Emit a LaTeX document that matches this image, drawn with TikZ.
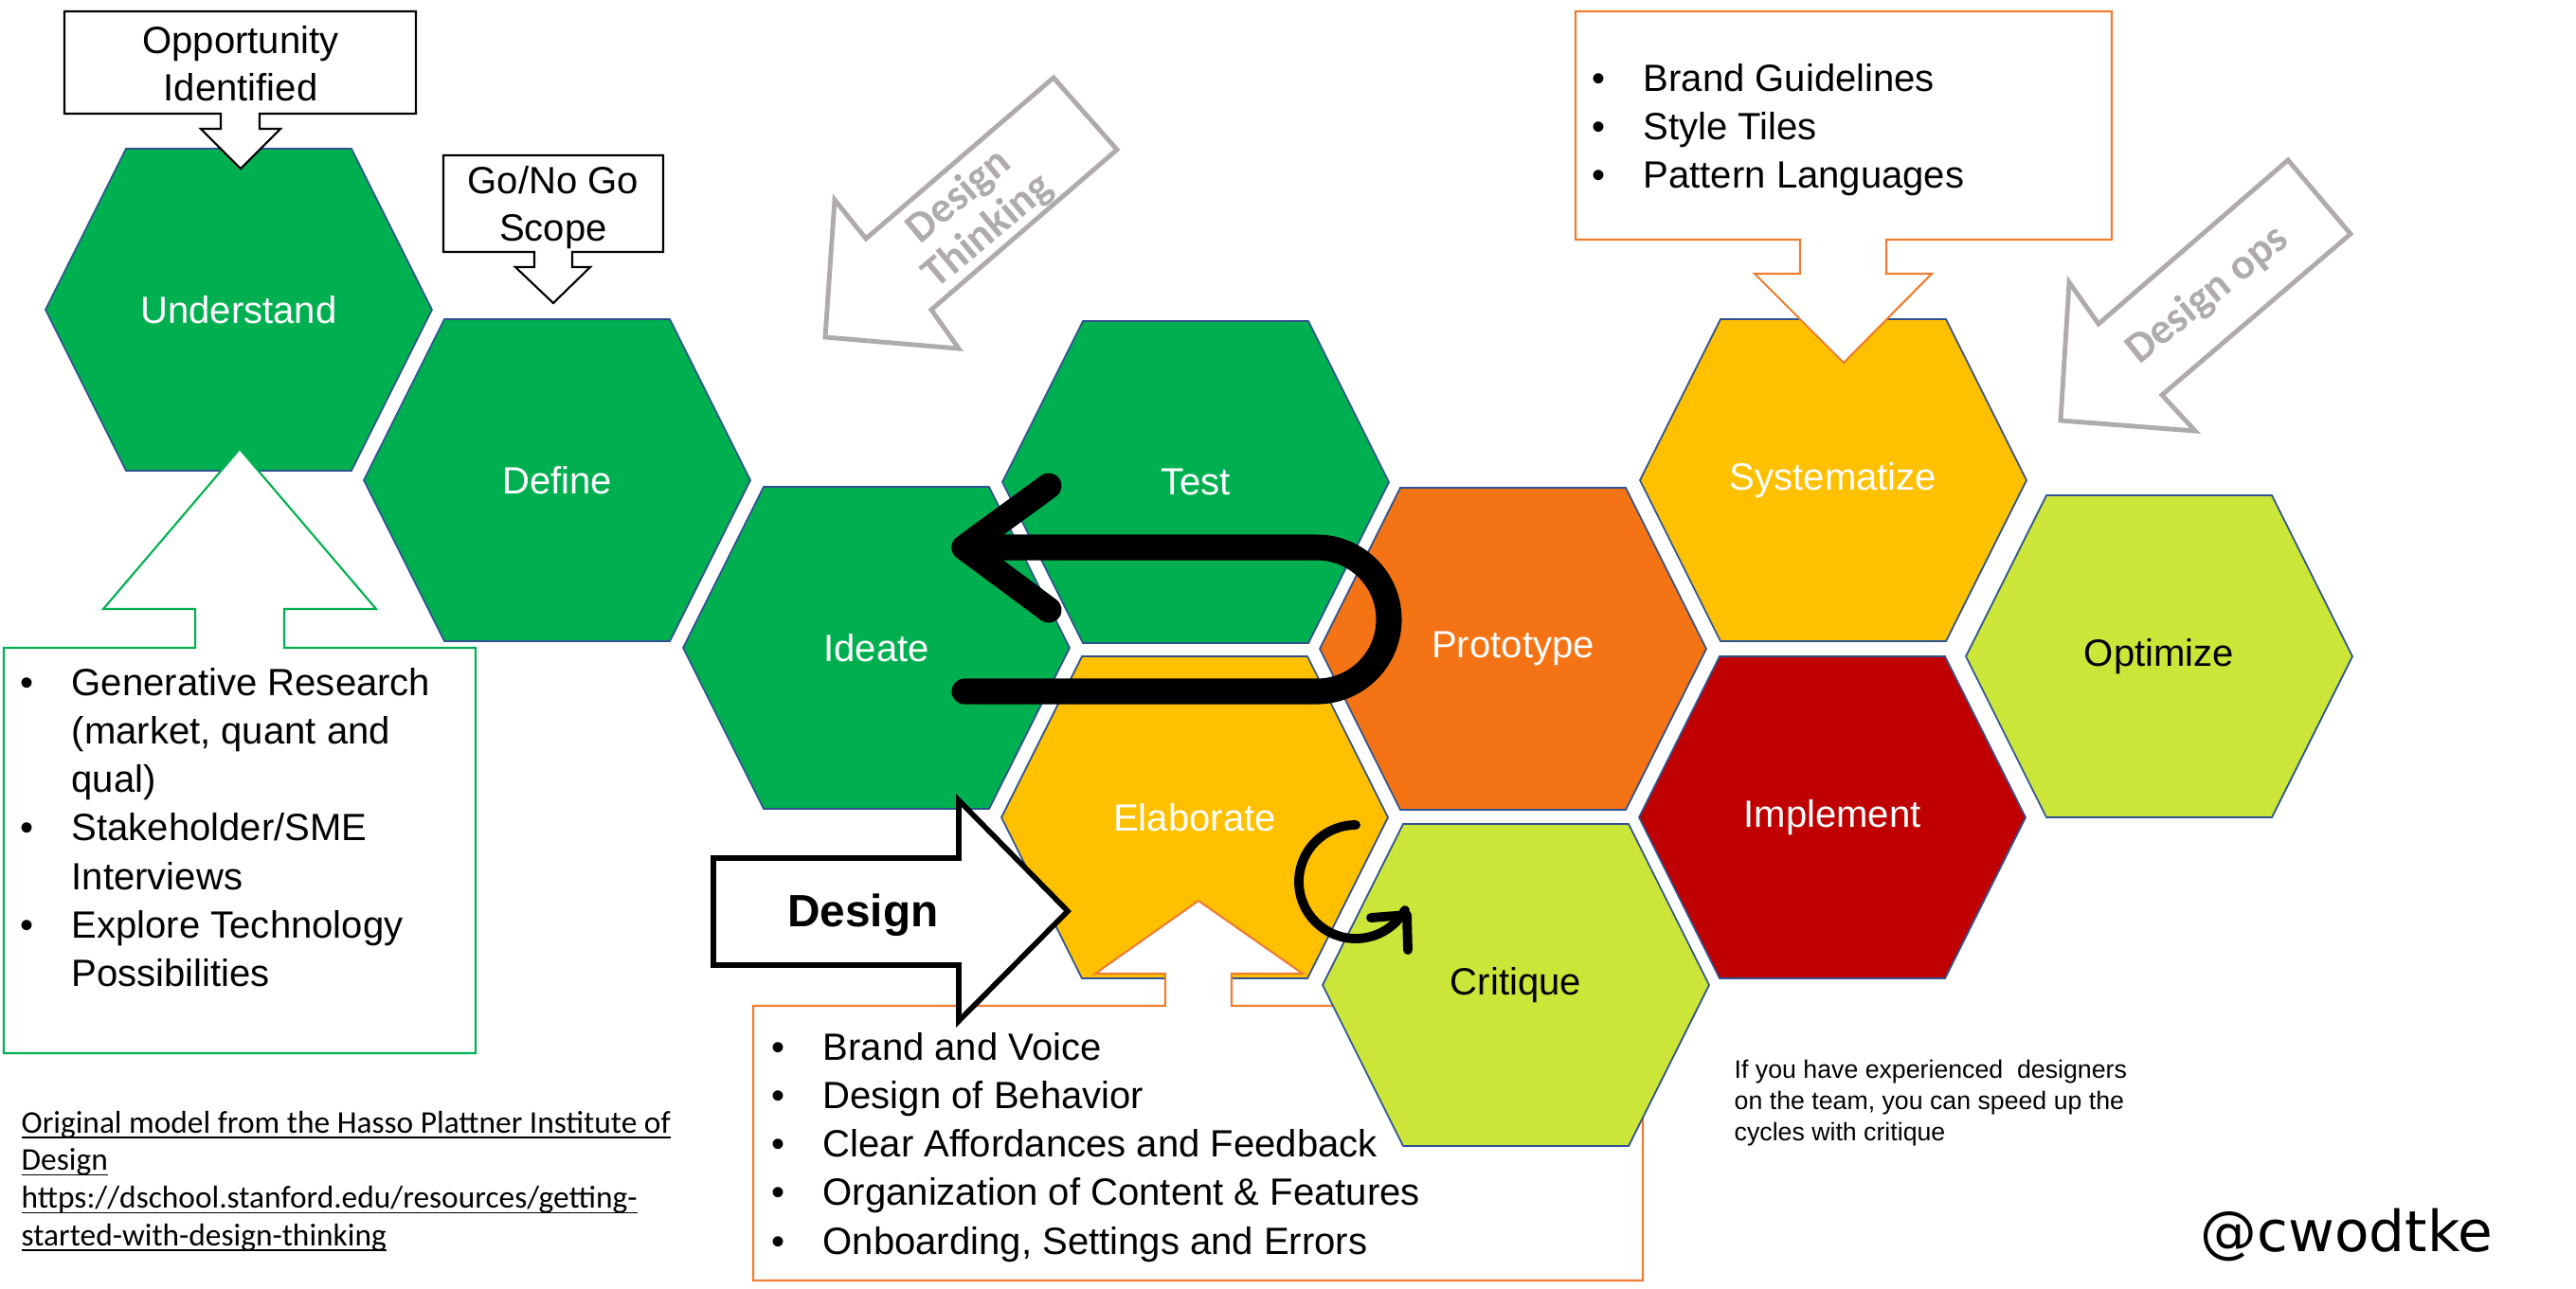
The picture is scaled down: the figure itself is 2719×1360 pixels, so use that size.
\documentclass[tikz,border=0pt]{standalone}
\usepackage{fontspec}
\setmainfont{Liberation Sans}
\newfontfamily\calibri{Carlito}
\newfontfamily\handfont{DejaVu Sans}
\usepackage{tikz}

\definecolor{hexgreen}{HTML}{00B050}
\definecolor{hexgold}{HTML}{FFC000}
\definecolor{hexorange}{HTML}{F47314}
\definecolor{hexred}{HTML}{C00000}
\definecolor{hexlime}{HTML}{CBE639}
\definecolor{hexline}{HTML}{2F528F}
\definecolor{boxorange}{HTML}{ED7D31}
\definecolor{arrowgray}{HTML}{AFABAB}

% hexagon: name, x, y, fill, text colour, label
\newcommand{\hexcell}[6]{%
  \filldraw[hexedge, fill=#4] (#2-204,#3) -- (#2-119,#3-170) -- (#2+119,#3-170)
    -- (#2+204,#3) -- (#2+119,#3+170) -- (#2-119,#3+170) -- cycle;
  \node[hexlabel, text=#5] (#1) at (#2,#3) {#6};}
\newcommand{\bpt}{\makebox[5.4mm][l]{\textbullet}}
\newcommand{\bsk}{\hspace*{5.4mm}}

\begin{document}
\begin{tikzpicture}[x=0.1mm, y=-0.1mm,
  hexedge/.style={draw=hexline, line width=0.5pt},
  hexlabel/.style={font=\fontsize{11.4}{14}\selectfont},
  callout/.style={draw=black, fill=white, line width=0.6pt},
  boxtext/.style={align=center, inner sep=0, font=\fontsize{11.4}{14.2}\selectfont},
  bullets/.style={anchor=base west, inner sep=0, font=\fontsize{11.4}{14.6}\selectfont},
  grayarrow/.style={draw=arrowgray, fill=white, line width=1.4pt},
  graytext/.style={text=arrowgray, align=center, inner sep=0, font=\calibri\bfseries\fontsize{13}{13.5}\selectfont},
  uturn/.style={line width=7.7pt, line cap=round, line join=round},
  loopback/.style={line width=2.8pt, line cap=round, line join=round}]
  \useasboundingbox (0,0) rectangle (2719,1360);
  % Hexagons
  \foreach \nm/\cx/\cy/\fc/\tc/\lab in {und/252/327/hexgreen/white/Understand,
      def/588/507/hexgreen/white/Define, ide/925/684/hexgreen/white/Ideate,
      tst/1262/509/hexgreen/white/Test, ela/1261/863/hexgold/white/Elaborate,
      pro/1597/685/hexorange/white/Prototype, sys/1935/507/hexgold/white/Systematize,
      imp/1934/863/hexred/white/Implement, opt/2279/693/hexlime/black/Optimize} {
    \hexcell{\nm}{\cx}{\cy}{\fc}{\tc}{\lab}
  }
  % Callouts
  \filldraw[callout] (68,12) -- (439,12) -- (439,120) -- (274,120) -- (274,136) -- (296,136)
    -- (254,178) -- (212,136) -- (233,136) -- (233,120) -- (68,120) -- cycle;
  \node[boxtext] (opp) at (254,67) {Opportunity\\Identified};
  \filldraw[callout] (468,164) -- (700,164) -- (700,266) -- (604,266) -- (604,282) -- (623,282)
    -- (584,320) -- (544,282) -- (564,282) -- (564,266) -- (468,266) -- cycle;
  \node[boxtext] (gonogo) at (584,219) {Go/No Go\\Scope};
  \filldraw[callout, draw=hexgreen] (4,684) -- (206,684) -- (206,643) -- (109,643) -- (253,474)
    -- (397,643) -- (300,643) -- (300,684) -- (502,684) -- (502,1112) -- (4,1112) -- cycle;
  \node[bullets] (research) at (21,734) {\parbox[t]{70mm}{\bpt Generative Research\\
    \bsk (market, quant and\\ \bsk qual)\\ \bpt Stakeholder/SME\\ \bsk Interviews\\
    \bpt Explore Technology\\ \bsk Possibilities}};
  \filldraw[callout, draw=boxorange] (1663,12) -- (2229,12) -- (2229,253) -- (1991,253) -- (1991,289)
    -- (2039,289) -- (1946,383) -- (1852,289) -- (1900,289) -- (1900,253) -- (1663,253) -- cycle;
  \node[bullets] (guides) at (1680,96) {\parbox[t]{70mm}{\bpt Brand Guidelines\\
    \bpt Style Tiles\\ \bpt Pattern Languages}};
  \filldraw[callout, draw=boxorange] (795,1062) -- (1230,1062) -- (1230,1028) -- (1156,1028) -- (1265,951)
    -- (1375,1028) -- (1300,1028) -- (1300,1062) -- (1734,1062) -- (1734,1352) -- (795,1352) -- cycle;
  \node[bullets] (craft) at (814,1119) {\parbox[t]{110mm}{\bpt Brand and Voice\\
    \bpt Design of Behavior\\ \bpt Clear Affordances and Feedback\\
    \bpt Organization of Content \& Features\\ \bpt Onboarding, Settings and Errors}};
  \hexcell{cri}{1600}{1040}{hexlime}{black}{Critique}
  % Design arrow
  \filldraw[draw=black, fill=white, line width=1.6pt] (753,906) -- (1012,906) -- (1012,845)
    -- (1127,962) -- (1012,1078) -- (1012,1019) -- (753,1019) -- cycle;
  \node[font=\bfseries\fontsize{13.6}{16}\selectfont] (design) at (911,966) {Design};
  % Gray arrows
  \draw[grayarrow] (1112,82) -- (1179,158) -- (983,327) -- (1012,368) -- (871,356)
    -- (881,211) -- (914,252) -- cycle;
  \node[graytext, rotate=40] (dthink) at (1028,226) {Design\\Thinking};
  \draw[grayarrow] (2415,169) -- (2481,247) -- (2282,417) -- (2317,455) -- (2175,444)
    -- (2184,298) -- (2215,342) -- cycle;
  \node[graytext, rotate=39] (dops) at (2330,312) {Design ops};
  % Loops
  \draw[uturn] (1018,730) -- (1390,730) arc[start angle=-90, end angle=90, radius=7.6mm] -- (1018,578);
  \draw[uturn] (1107,513) -- (1018,578) -- (1107,644);
  \draw[loopback] (1431,871) arc[start angle=90, end angle=330, radius=6mm];
  \draw[loopback] (1447,969) -- (1485,966) -- (1486,1003);
  % Notes
  \node[anchor=base west, inner sep=0, font=\fontsize{7.6}{9.5}\selectfont] (tip) at (1830,1138)
    {\parbox[t]{60mm}{If you have experienced\ \ designers\\on the team, you can speed up the\\cycles with critique}};
  \node[anchor=base west, inner sep=0, font=\calibri\fontsize{9.5}{11.3}\selectfont] (credit) at (22,1196)
    {\parbox[t]{120mm}{\underline{\smash{Original model from the Hasso Plattner Institute of}}\\
    \underline{\smash{Design}}\\ \underline{\smash{https://dschool.stanford.edu/resources/getting-}}\\
    \underline{\smash{started-with-design-thinking}}}};
  \node[anchor=base west, inner sep=0, font=\handfont\fontsize{17}{20}\selectfont] (handle) at (2322,1321) {@cwodtke};
\end{tikzpicture}
\end{document}
